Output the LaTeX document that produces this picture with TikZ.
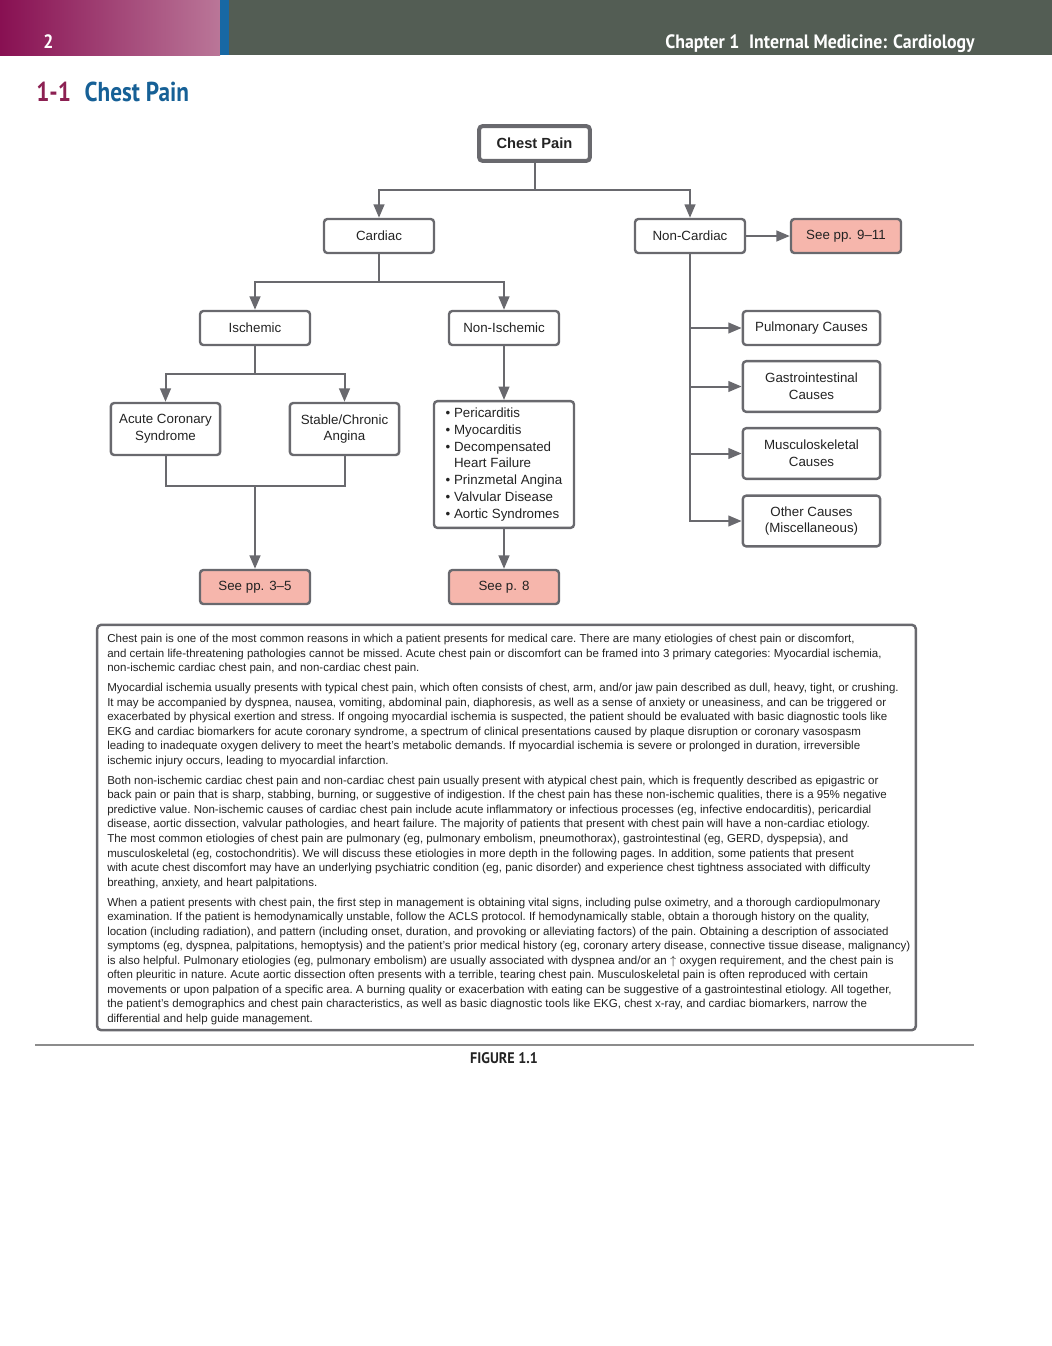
\documentclass[tikz,border=0pt]{standalone}
\usepackage{fontspec}
\setmainfont{Liberation Sans}
\newfontfamily\headfont[FakeStretch=0.92]{PT Sans}
\newfontfamily\titlefont[FakeStretch=0.85]{PT Sans}
\usetikzlibrary{arrows.meta}
\definecolor{linegray}{RGB}{105,105,110}
\definecolor{seepink}{RGB}{246,182,172}
\definecolor{barleft}{RGB}{136,16,82}
\definecolor{barright}{RGB}{186,118,152}
\definecolor{barblue}{RGB}{24,104,164}
\definecolor{bardark}{RGB}{83,93,84}
\definecolor{titlered}{RGB}{140,32,82}
\definecolor{titleblue}{RGB}{22,96,150}
\definecolor{inkgray}{RGB}{35,35,35}
\begin{document}
\begin{tikzpicture}[x=0.75pt,y=-0.75pt,
  box/.style={draw=linegray,line width=1.8pt,rounded corners=2.5pt,fill=white,text=inkgray,
    minimum width=82.5pt,minimum height=25.5pt,align=center,inner sep=2pt,
    font=\fontsize{10}{12.6}\selectfont},
  tallbox/.style={box,minimum height=39pt},
  seebox/.style={box,fill=seepink},
  causebox/.style={box,minimum width=103pt},
  link/.style={draw=linegray,line width=1.5pt},
  linkarr/.style={link,-{Triangle[length=10pt,width=8pt]}}]
  \useasboundingbox (0,0) rectangle (1052,1346);
  \shade[left color=barleft,right color=barright] (0,0) rectangle (220,55);
  \fill[barblue] (220,0) rectangle (229,55);
  \fill[bardark] (229,0) rectangle (1052,55);
  \node[anchor=base west,inner sep=0,text=white,font=\headfont\bfseries\fontsize{14.5}{14.5}\selectfont] (pagenum) at (43,48) {2};
  \node[anchor=base east,inner sep=0,text=white,font=\headfont\bfseries\fontsize{14.5}{14.5}\selectfont] (chapter) at (975,48) {Chapter 1\enspace Internal Medicine: Cardiology};
  \node[anchor=base west,inner sep=0,font=\titlefont\bfseries\fontsize{20.5}{20.5}\selectfont] (title) at (36,101) {\textcolor{titlered}{1-1}\enspace\textcolor{titleblue}{Chest Pain}};

  \node[box,line width=3pt,font=\bfseries\fontsize{11}{13}\selectfont,minimum width=83pt,minimum height=26pt] (chest) at (534.5,143.5) {Chest Pain};
  \node[box] (cardiac) at (379,236) {Cardiac};
  \node[box] (noncard) at (690,236) {Non-Cardiac};
  \node[seebox] (see911) at (846,236) {See pp. 9--11};
  \node[box] (isch) at (255,328) {Ischemic};
  \node[box] (nonisch) at (504,328) {Non-Ischemic};
  \node[tallbox,minimum width=82pt] (acs) at (165.5,429) {Acute Coronary\\Syndrome};
  \node[tallbox,minimum width=82pt] (stable) at (344.5,429) {Stable/Chronic\\Angina};
  \node[box,minimum width=105pt,minimum height=95pt,align=left] (bullets) at (504,464.5) {\textbullet\ Pericarditis\\\textbullet\ Myocarditis\\\textbullet\ Decompensated\\\phantom{\textbullet\ }Heart Failure\\\textbullet\ Prinzmetal Angina\\\textbullet\ Valvular Disease\\\textbullet\ Aortic Syndromes};
  \node[seebox] (see35) at (255,587) {See pp. 3--5};
  \node[seebox] (see8) at (504,587) {See p. 8};
  \node[causebox] (pulm) at (811.5,328) {Pulmonary Causes};
  \node[causebox,minimum height=38pt] (gi) at (811.5,386.5) {Gastrointestinal\\Causes};
  \node[causebox,minimum height=38pt] (msk) at (811.5,453.5) {Musculoskeletal\\Causes};
  \node[causebox,minimum height=38pt] (other) at (811.5,521) {Other Causes\\(Miscellaneous)};

  \draw[linkarr] (chest.south) -- ++(0,27) -| (cardiac.north);
  \draw[linkarr] (chest.south) -- ++(0,27) -| (noncard.north);
  \draw[linkarr] (cardiac.south) -- ++(0,28) -| (isch.north);
  \draw[linkarr] (cardiac.south) -- ++(0,28) -| (nonisch.north);
  \draw[linkarr] (isch.south) -- ++(0,28) -| (acs.north);
  \draw[linkarr] (isch.south) -- ++(0,28) -| (stable.north);
  \draw[link] (acs.south) -- ++(0,30) -| (stable.south);
  \coordinate (merge) at (255,485);
  \draw[linkarr] (merge) -- (see35.north);
  \draw[linkarr] (nonisch.south) -- (bullets.north);
  \draw[linkarr] (bullets.south) -- (see8.north);
  \draw[linkarr] (noncard.east) -- (see911.west);
  \foreach \c in {pulm,gi,msk,other}
    \draw[linkarr] (noncard.south) |- (\c.west);

  \node[draw=linegray,line width=1.9pt,rounded corners=3pt,minimum width=614pt,minimum height=304pt] (frame) at (506.5,827.5) {};
  \node[anchor=north west,align=left,inner sep=0,text=inkgray,font=\frenchspacing\fontsize{8.65}{10.9}\selectfont] (notes) at (107,634) {%
Chest pain is one of the most common reasons in which a patient presents for medical care. There are many etiologies of chest pain or discomfort,\\
and certain life-threatening pathologies cannot be missed. Acute chest pain or discomfort can be framed into 3 primary categories: Myocardial ischemia,\\
non-ischemic cardiac chest pain, and non-cardiac chest pain.\\[4.1pt]
Myocardial ischemia usually presents with typical chest pain, which often consists of chest, arm, and/or jaw pain described as dull, heavy, tight, or crushing.\\
It may be accompanied by dyspnea, nausea, vomiting, abdominal pain, diaphoresis, as well as a sense of anxiety or uneasiness, and can be triggered or\\
exacerbated by physical exertion and stress. If ongoing myocardial ischemia is suspected, the patient should be evaluated with basic diagnostic tools like\\
EKG and cardiac biomarkers for acute coronary syndrome, a spectrum of clinical presentations caused by plaque disruption or coronary vasospasm\\
leading to inadequate oxygen delivery to meet the heart’s metabolic demands. If myocardial ischemia is severe or prolonged in duration, irreversible\\
ischemic injury occurs, leading to myocardial infarction.\\[4.1pt]
Both non-ischemic cardiac chest pain and non-cardiac chest pain usually present with atypical chest pain, which is frequently described as epigastric or\\
back pain or pain that is sharp, stabbing, burning, or suggestive of indigestion. If the chest pain has these non-ischemic qualities, there is a 95\% negative\\
predictive value. Non-ischemic causes of cardiac chest pain include acute inflammatory or infectious processes (eg, infective endocarditis), pericardial\\
disease, aortic dissection, valvular pathologies, and heart failure. The majority of patients that present with chest pain will have a non-cardiac etiology.\\
The most common etiologies of chest pain are pulmonary (eg, pulmonary embolism, pneumothorax), gastrointestinal (eg, GERD, dyspepsia), and\\
musculoskeletal (eg, costochondritis). We will discuss these etiologies in more depth in the following pages. In addition, some patients that present\\
with acute chest discomfort may have an underlying psychiatric condition (eg, panic disorder) and experience chest tightness associated with difficulty\\
breathing, anxiety, and heart palpitations.\\[4.1pt]
When a patient presents with chest pain, the first step in management is obtaining vital signs, including pulse oximetry, and a thorough cardiopulmonary\\
examination. If the patient is hemodynamically unstable, follow the ACLS protocol. If hemodynamically stable, obtain a thorough history on the quality,\\
location (including radiation), and pattern (including onset, duration, and provoking or alleviating factors) of the pain. Obtaining a description of associated\\
symptoms (eg, dyspnea, palpitations, hemoptysis) and the patient’s prior medical history (eg, coronary artery disease, connective tissue disease, malignancy)\\
is also helpful. Pulmonary etiologies (eg, pulmonary embolism) are usually associated with dyspnea and/or an $\uparrow$ oxygen requirement, and the chest pain is\\
often pleuritic in nature. Acute aortic dissection often presents with a terrible, tearing chest pain. Musculoskeletal pain is often reproduced with certain\\
movements or upon palpation of a specific area. A burning quality or exacerbation with eating can be suggestive of a gastrointestinal etiology. All together,\\
the patient’s demographics and chest pain characteristics, as well as basic diagnostic tools like EKG, chest x-ray, and cardiac biomarkers, narrow the\\
differential and help guide management.};

  \draw[draw=black!45,line width=1.1pt] (35,1045) -- (974,1045);
  \node[text=inkgray,font=\headfont\bfseries\fontsize{11.5}{11.5}\selectfont] (figlabel) at (504,1058) {FIGURE 1.1};
\end{tikzpicture}
\end{document}
